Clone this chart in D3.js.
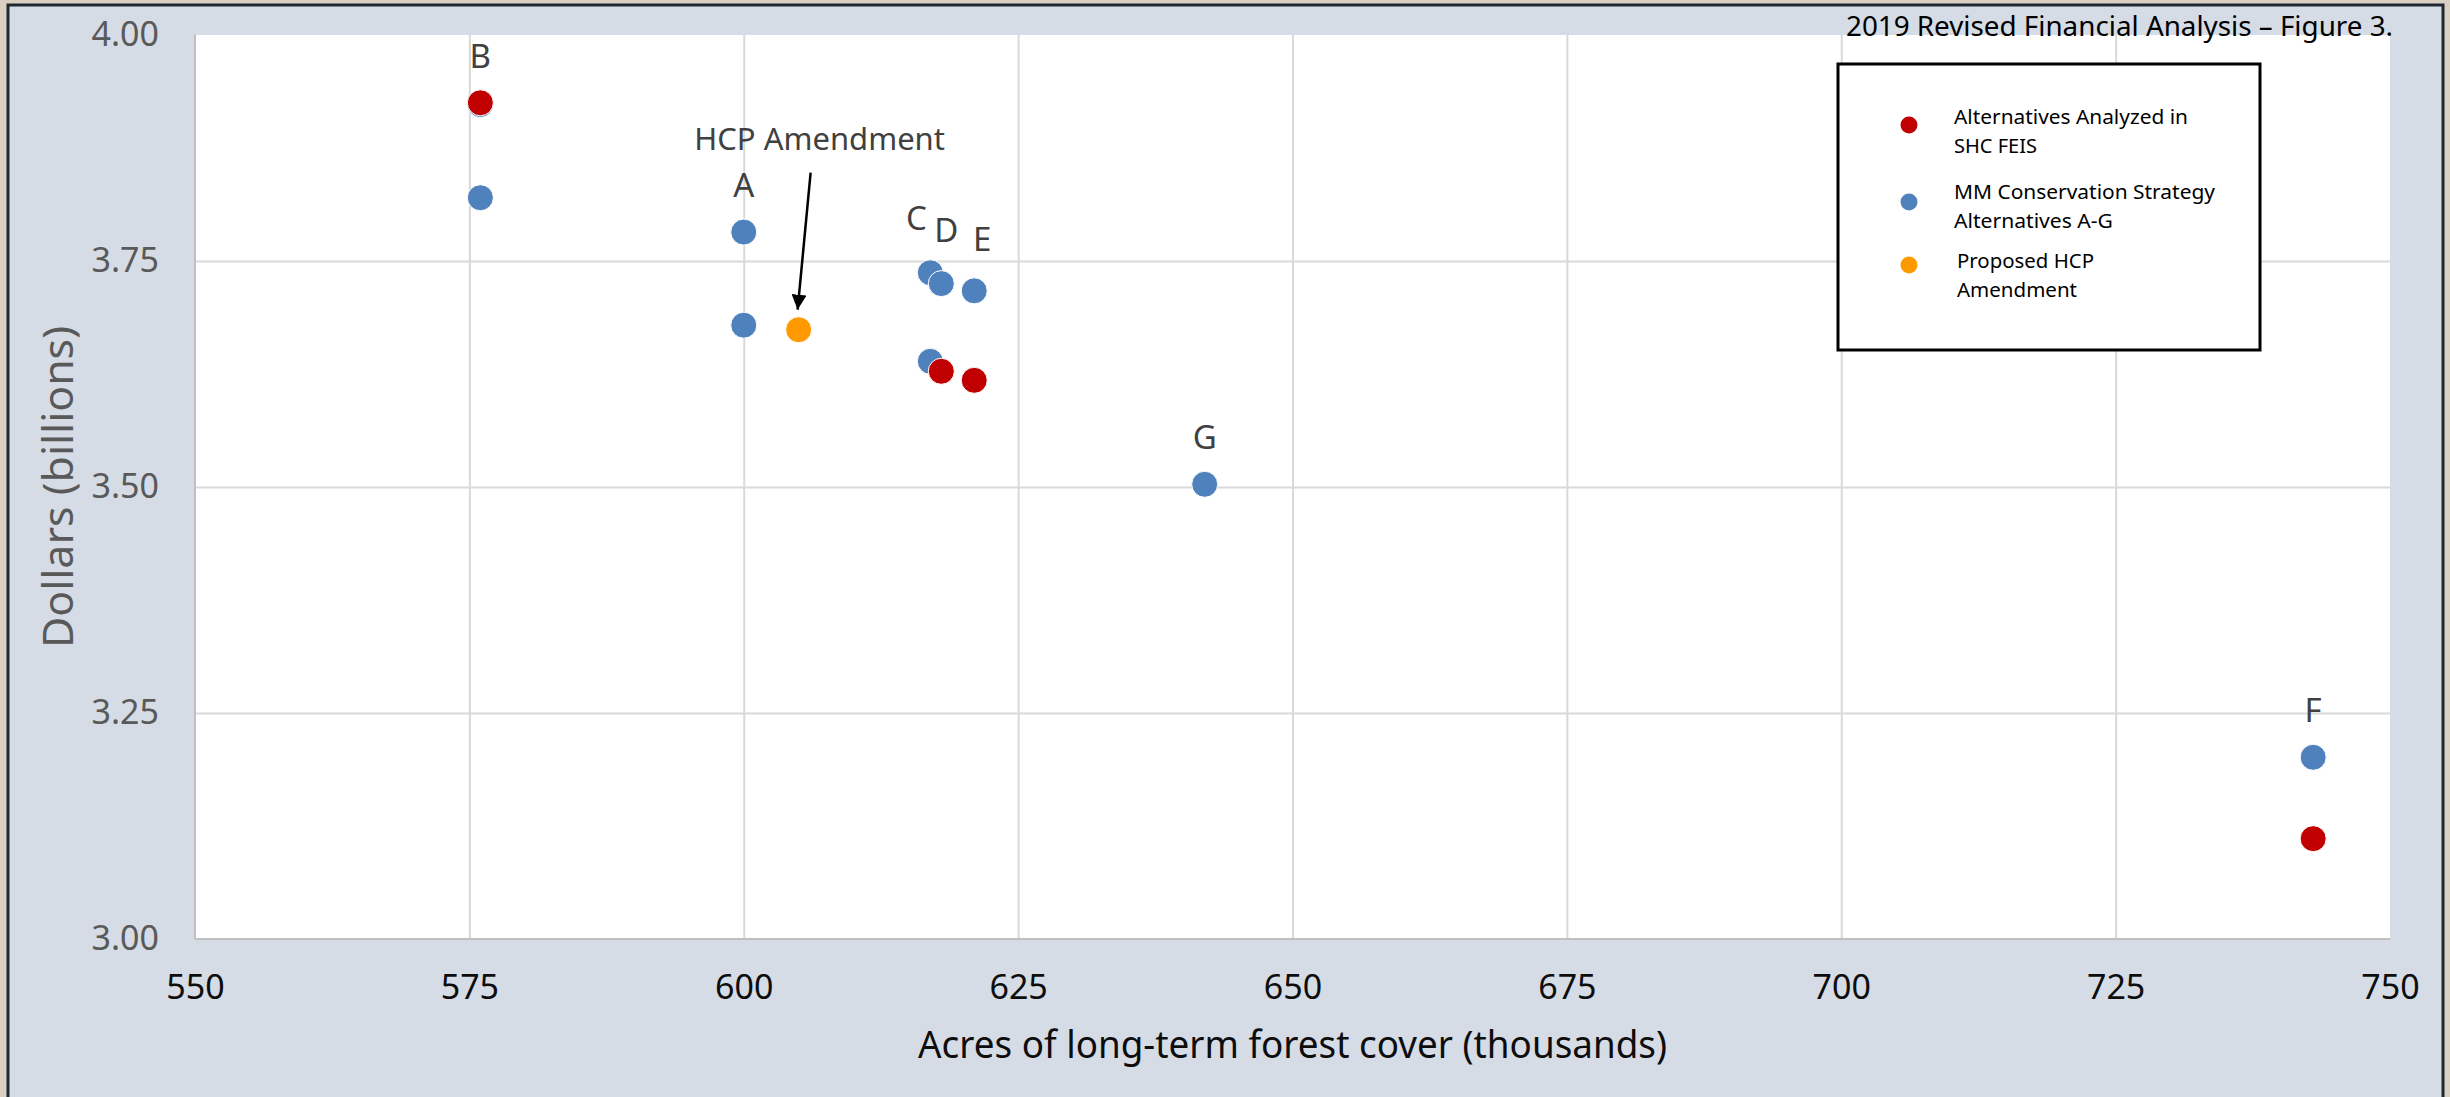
<!DOCTYPE html>
<html>
<head>
<meta charset="utf-8">
<script src="https://d3js.org/d3.v7.min.js"></script>
<style>
body { margin: 0; background: #d9d0c2; }
svg { display: block; font-family: "Noto Sans", sans-serif; }
</style>
</head>
<body>
<script>
// chart values
var xTicks = [550, 575, 600, 625, 650, 675, 700, 725, 750];
var yTicks = [3.00, 3.25, 3.50, 3.75, 4.00];

// Alternatives Analyzed in SHC FEIS (red)
var feisX = [576, 618, 621, 743];
var feisY = [3.925, 3.628, 3.618, 3.111];

// MM Conservation Strategy Alternatives A-G (blue)
var mmX = [576, 576, 600, 600, 617, 617, 618, 621, 642, 743];
var mmY = [3.923, 3.820, 3.782, 3.679, 3.737, 3.639, 3.725, 3.717, 3.503, 3.201];

// Proposed HCP Amendment (orange)
var hcpX = [605];
var hcpY = [3.674];

var letters = ["B", "A", "C", "D", "E", "G", "F"];
var letterX = [576, 600, 617, 618, 621, 642, 743];
var letterY = [3.925, 3.782, 3.737, 3.725, 3.717, 3.503, 3.201];

var legendNames = [["Alternatives Analyzed in", "SHC FEIS"],
                   ["MM Conservation Strategy", "Alternatives A-G"],
                   ["Proposed HCP", "Amendment"]];

var W = 2450, H = 1097;
var red = "#c00000", blue = "#4f81bd", orange = "#ff9900";

var svg = d3.select("body").append("svg")
    .attr("width", W)
    .attr("height", H);

// outer frame
svg.append("rect")
    .attr("x", 8).attr("y", 5)
    .attr("width", 2435).attr("height", H + 10)
    .attr("fill", "#d6dce5")
    .attr("stroke", "#1f2833")
    .attr("stroke-width", 3);

var pLeft = 195, pRight = 2390, pTop = 35, pBottom = 939;

var x = d3.scaleLinear().domain([550, 750]).range([pLeft, pRight]);
var y = d3.scaleLinear().domain([3, 4]).range([pBottom, pTop]);

svg.append("rect")
    .attr("x", pLeft).attr("y", pTop)
    .attr("width", pRight - pLeft).attr("height", pBottom - pTop)
    .attr("fill", "#ffffff");

// grid
svg.append("g")
    .attr("transform", "translate(0," + pBottom + ")")
    .call(d3.axisBottom(x).tickValues(xTicks.slice(1, -1)).tickSize(-(pBottom - pTop)).tickFormat(""))
    .call(function (g) { g.select(".domain").remove(); })
    .selectAll("line").attr("stroke", "#d9d9d9").attr("stroke-width", 2);

svg.append("g")
    .attr("transform", "translate(" + pLeft + ",0)")
    .call(d3.axisLeft(y).tickValues(yTicks.slice(1, -1)).tickSize(-(pRight - pLeft)).tickFormat(""))
    .call(function (g) { g.select(".domain").remove(); })
    .selectAll("line").attr("stroke", "#d9d9d9").attr("stroke-width", 2);

// axis lines
svg.append("line")
    .attr("x1", pLeft).attr("x2", pLeft).attr("y1", pTop).attr("y2", pBottom)
    .attr("stroke", "#bfbfbf").attr("stroke-width", 2);
svg.append("line")
    .attr("x1", pLeft).attr("x2", pRight).attr("y1", pBottom).attr("y2", pBottom)
    .attr("stroke", "#bfbfbf").attr("stroke-width", 2);

// tick labels
var xAxis = svg.append("g")
    .attr("transform", "translate(0," + pBottom + ")")
    .call(d3.axisBottom(x).tickValues(xTicks).tickSize(0).tickPadding(36).tickFormat(d3.format("d")));
xAxis.select(".domain").remove();
xAxis.selectAll("text")
    .attr("font-family", "Noto Sans")
    .attr("font-size", 34)
    .attr("fill", "#0d0d0d");

var yAxis = svg.append("g")
    .attr("transform", "translate(" + pLeft + ",0)")
    .call(d3.axisLeft(y).tickValues(yTicks).tickSize(0).tickPadding(36).tickFormat(d3.format(".2f")));
yAxis.select(".domain").remove();
yAxis.selectAll("text")
    .attr("font-family", "Noto Sans")
    .attr("font-size", 34)
    .attr("fill", "#595959");

function fit(t, w) {
    t.attr("textLength", w).attr("lengthAdjust", "spacingAndGlyphs");
    return t;
}

// axis titles
fit(svg.append("text")
    .attr("x", (pLeft + pRight) / 2).attr("y", 1058)
    .attr("text-anchor", "middle")
    .attr("font-size", 38)
    .attr("fill", "#0d0d0d")
    .text("Acres of long-term forest cover (thousands)"), 749);

fit(svg.append("text")
    .attr("transform", "translate(73," + (pTop + pBottom) / 2 + ") rotate(-90)")
    .attr("text-anchor", "middle")
    .attr("font-size", 42)
    .attr("fill", "#595959")
    .text("Dollars (billions)"), 322);

// points
function drawC(xs, ys, color) {
    svg.append("g").selectAll("circle")
        .data(xs)
        .enter().append("circle")
        .attr("cx", function (d) { return x(d); })
        .attr("cy", function (d, i) { return y(ys[i]); })
        .attr("r", 13)
        .attr("fill", color)
        .attr("stroke", "#ffffff")
        .attr("stroke-width", 1);
}
drawC(mmX, mmY, blue);
drawC(feisX, feisY, red);
drawC(hcpX, hcpY, orange);

// letter labels
var letterDx = { C: -14, D: 5, E: 8 };
var letterDy = { C: -43, D: -42, E: -40 };
svg.append("g").selectAll("text")
    .data(letters)
    .enter().append("text")
    .attr("x", function (d, i) { return x(letterX[i]) + (letterDx[d] || 0); })
    .attr("y", function (d, i) { return y(letterY[i]) + (letterDy[d] || -35); })
    .attr("text-anchor", "middle")
    .attr("font-size", 33)
    .attr("fill", "#404040")
    .text(function (d) { return d; });

// HCP Amendment callout
var hx = x(hcpX[0]), hy = y(hcpY[0]);
svg.append("text")
    .attr("x", hx + 21).attr("y", hy - 180)
    .attr("text-anchor", "middle")
    .attr("font-size", 31)
    .attr("fill", "#404040")
    .text("HCP Amendment");

svg.append("defs").append("marker")
    .attr("id", "head")
    .attr("viewBox", "0 0 10 10")
    .attr("refX", 10).attr("refY", 5)
    .attr("markerWidth", 6).attr("markerHeight", 6)
    .attr("markerUnits", "strokeWidth")
    .attr("orient", "auto")
    .append("path")
    .attr("d", "M0,0L10,5L0,10Z")
    .attr("fill", "#000");

svg.append("line")
    .attr("x1", hx + 12).attr("y1", hy - 157)
    .attr("x2", hx - 1).attr("y2", hy - 20)
    .attr("stroke", "#000")
    .attr("stroke-width", 2.5)
    .attr("marker-end", "url(#head)");

// title
fit(svg.append("text")
    .attr("x", 1846).attr("y", 36)
    .attr("font-size", 28)
    .attr("fill", "#000")
    .text("2019 Revised Financial Analysis \u2013 Figure 3."), 547);

// legend
var lg = svg.append("g");
lg.append("rect")
    .attr("x", 1838).attr("y", 64)
    .attr("width", 422).attr("height", 286)
    .attr("fill", "#ffffff")
    .attr("stroke", "#000")
    .attr("stroke-width", 3);

var legendColors = [red, blue, orange];
var legendMarkY = [125, 202, 265];
var legendTextY = [124, 199, 268];
var legendTextX = [1954, 1954, 1957];
var legendW = [[234, 83], [261, 159], [137, 120]];

legendNames.forEach(function (lines, i) {
    lg.append("circle")
        .attr("cx", 1909).attr("cy", legendMarkY[i])
        .attr("r", 8.5)
        .attr("fill", legendColors[i]);
    lines.forEach(function (s, j) {
        fit(lg.append("text")
            .attr("x", legendTextX[i]).attr("y", legendTextY[i] + j * 29)
            .attr("font-size", 20)
            .attr("fill", "#000")
            .text(s), legendW[i][j]);
    });
});
</script>
</body>
</html>
